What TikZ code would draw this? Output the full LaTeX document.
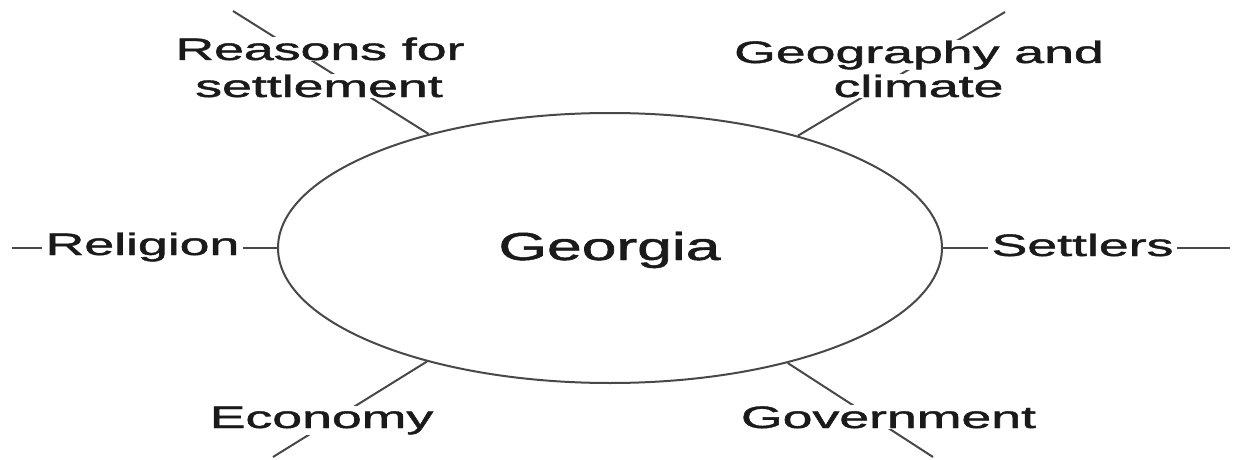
\documentclass[tikz,border=0pt]{standalone}
\usepackage{fontspec}
\setmainfont{Liberation Sans}
\newfontfamily\heavyfont[FakeBold=1.2]{Liberation Sans}
\usetikzlibrary{shapes.geometric}
\definecolor{linegray}{HTML}{484848}
\definecolor{txt}{HTML}{1A1A1A}
\newcommand{\lbltext}[1]{\scalebox{1.73}[1]{#1}}
\begin{document}
\begin{tikzpicture}[x=1pt,y=-1pt,
  conn/.style={draw=linegray, line width=2pt},
  lbl/.style={fill=white, text=txt, inner xsep=4pt, inner ysep=1pt, anchor=base,
    font=\heavyfont\fontsize{31}{37}\selectfont},
  hub/.style={ellipse, draw=linegray, line width=2pt, minimum width=664pt,
    minimum height=270pt, inner sep=0pt}]
\useasboundingbox (0,0) rectangle (1235,460);
\node[hub] (G) at (610,248) {};
\node[anchor=base, text=txt, font=\heavyfont\fontsize{39}{46}\selectfont, inner sep=0pt] (Gt) at (609.5,260) {\scalebox{1.6}[1]{Georgia}};
% outer ends
\coordinate (o1) at (233,11);
\coordinate (o2) at (1005,12);
\coordinate (o3) at (12,248);
\coordinate (o4) at (1230,248);
\coordinate (o5) at (273,457);
\coordinate (o6) at (933,457);
% connectors
\draw[conn] (o1) -- (G);
\draw[conn] (o2) -- (G);
\draw[conn] (o3) -- (G.west);
\draw[conn] (G.east) -- (o4);
\draw[conn] (o5) -- (G);
\draw[conn] (o6) -- (G);
% labels
\node[lbl] (r1) at (320,60) {\lbltext{Reasons for}};
\node[lbl] (r2) at (319,97) {\lbltext{settlement}};
\node[lbl] (g1) at (919,63) {\lbltext{Geography and}};
\node[lbl] (g2) at (918.5,97) {\lbltext{climate}};
\node[lbl] (rel) at (142.5,255) {\lbltext{Religion}};
\node[lbl] (set) at (1082.5,256) {\lbltext{Settlers}};
\node[lbl] (eco) at (321.5,428) {\lbltext{Economy}};
\node[lbl] (gov) at (888.5,428) {\lbltext{Government}};
\end{tikzpicture}
\end{document}
